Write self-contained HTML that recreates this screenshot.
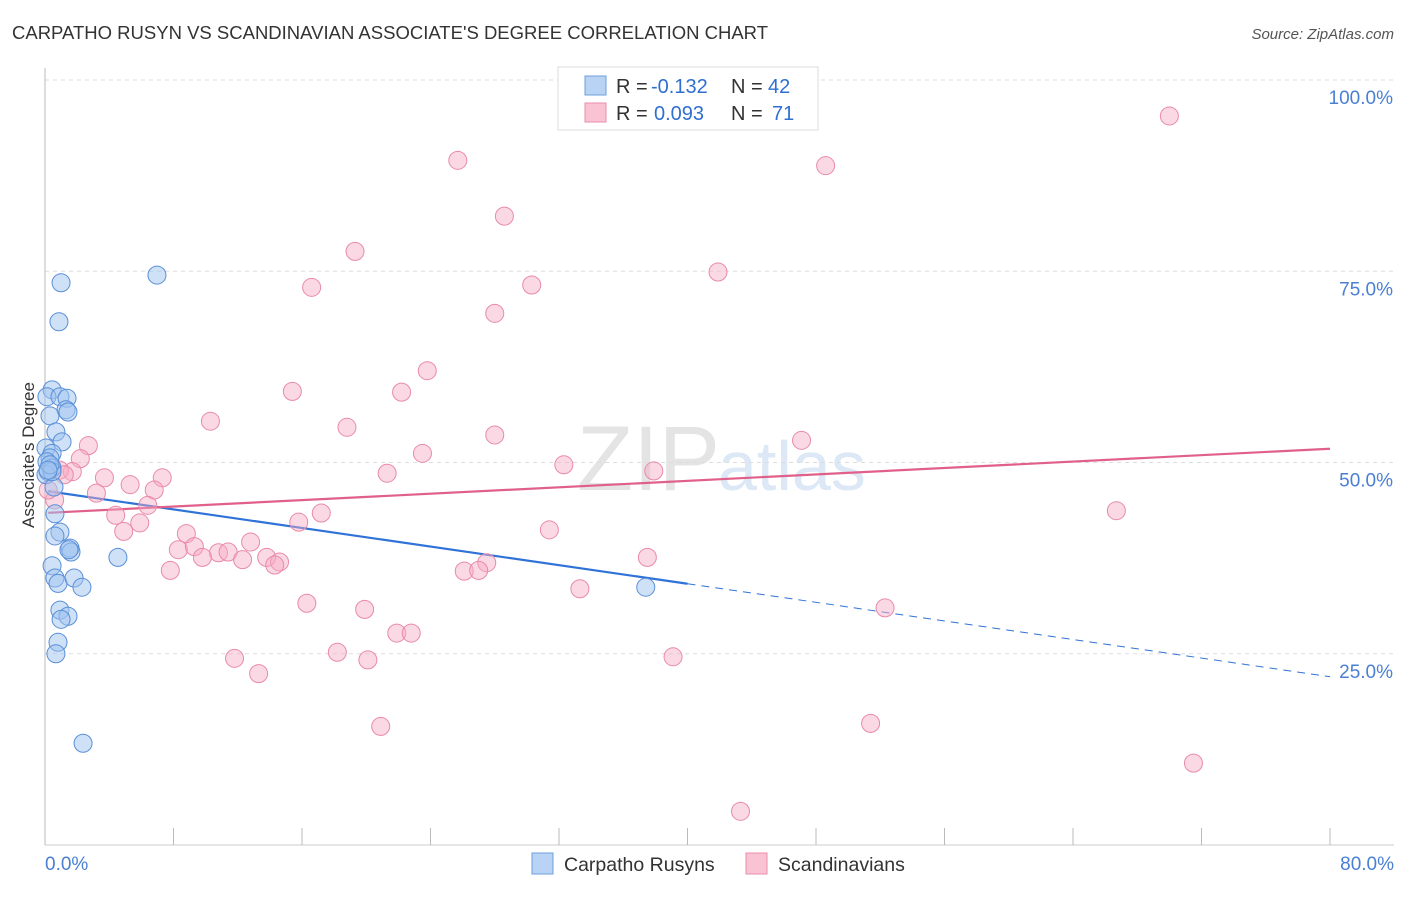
<!DOCTYPE html>
<html><head><meta charset="utf-8"><style>
body{margin:0;background:#fff;font-family:"Liberation Sans",sans-serif;}
svg text{font-family:"Liberation Sans",sans-serif;}
</style></head><body>
<svg id="chart" width="1406" height="892" xmlns="http://www.w3.org/2000/svg">
<text x="12" y="39" font-size="18.5" fill="#333">CARPATHO RUSYN VS SCANDINAVIAN ASSOCIATE'S DEGREE CORRELATION CHART</text>
<text x="1394" y="39" font-size="15" fill="#555" font-style="italic" text-anchor="end">Source: ZipAtlas.com</text>
<text x="720" y="490" font-size="92" fill="#e4e4e4" text-anchor="end" font-family="Liberation Serif">ZIP</text>
<text x="718" y="490" font-size="70" fill="#dce8f6">atlas</text>
<g id="grid"></g>
<g id="axes"></g>
<g id="trend"></g>
<g id="points"></g>
<text transform="translate(34,455) rotate(-90)" font-size="17" fill="#333" text-anchor="middle">Associate's Degree</text>
<g>
<rect x="558" y="67" width="260" height="63" fill="#fff" stroke="#ddd"/>
<rect x="585" y="76" width="21" height="19" fill="#b8d3f3" stroke="#6f9fdc"/>
<rect x="585" y="103" width="21" height="19" fill="#f9c3d3" stroke="#eb8fac"/>
<text x="616" y="93" font-size="20" fill="#333">R =</text>
<text x="651" y="93" font-size="20" fill="#2f6fd0">-0.132</text>
<text x="731" y="93" font-size="20" fill="#333">N =</text>
<text x="768" y="93" font-size="20" fill="#2f6fd0">42</text>
<text x="616" y="120" font-size="20" fill="#333">R =</text>
<text x="654" y="120" font-size="20" fill="#2f6fd0">0.093</text>
<text x="731" y="120" font-size="20" fill="#333">N =</text>
<text x="772" y="120" font-size="20" fill="#2f6fd0">71</text>
</g>
<g>
<rect x="532" y="853" width="21" height="21" fill="#b8d3f3" stroke="#6f9fdc"/>
<text x="564" y="871" font-size="19.5" fill="#333">Carpatho Rusyns</text>
<rect x="746" y="853" width="21" height="21" fill="#f9c3d3" stroke="#eb8fac"/>
<text x="778" y="871" font-size="19.5" fill="#333">Scandinavians</text>
</g>
</svg>
<script>
const blueX=[1.0,0.87,6.97,0.44,0.12,0.93,1.37,1.31,1.43,0.31,0.68,1.06,0.06,0.44,0.31,0.12,0.44,0.19,0.06,0.56,0.62,0.93,0.62,1.56,1.62,1.49,4.54,0.44,0.62,0.81,1.81,2.3,0.93,1.43,1.0,0.81,0.68,2.37,37.4,0.44,0.31,0.19];
const blueY=[73.5,68.4,74.5,59.5,58.6,58.6,58.4,56.9,56.6,56.1,54.0,52.7,51.9,51.2,50.6,50.1,49.3,48.8,48.4,46.8,43.3,40.9,40.4,38.8,38.3,38.6,37.6,36.5,34.9,34.2,34.9,33.7,30.7,29.9,29.5,26.5,25.0,13.3,33.7,48.8,49.7,49.0];
const pinkX=[25.7,28.6,70.0,48.6,19.3,16.6,41.9,30.3,28.0,23.8,15.4,22.2,10.3,18.8,28.0,47.1,2.7,23.5,2.2,32.3,21.3,1.7,3.7,7.3,37.9,5.3,3.2,6.8,6.4,4.4,5.9,17.2,15.8,31.4,8.8,4.9,66.7,12.8,8.3,9.3,10.8,11.4,9.8,12.3,13.8,14.6,14.3,37.5,27.5,7.8,26.1,27.0,33.3,16.3,19.9,52.3,21.9,22.8,18.2,39.1,11.8,20.1,13.3,20.9,51.4,71.5,43.3,0.6,0.9,0.2,1.2];
const pinkY=[89.5,82.2,95.3,88.8,77.6,72.9,74.9,73.2,69.5,62.0,59.3,59.2,55.4,54.6,53.6,52.9,52.2,51.2,50.5,49.7,48.6,48.8,48.0,48.0,48.9,47.1,46.0,46.4,44.4,43.1,42.1,43.4,42.2,41.2,40.7,41.0,43.7,39.6,38.6,39.0,38.2,38.3,37.6,37.3,37.6,37.0,36.6,37.6,36.9,35.9,35.8,35.9,33.5,31.6,30.8,31.0,27.7,27.7,25.2,24.6,24.4,24.2,22.4,15.5,15.9,10.7,4.4,45.1,49.0,46.4,48.4];
const yTicks=[25,50,75,100];
const yTickLabels=["25.0%","50.0%","75.0%","100.0%"];
const xTicks=[0,8,16,24,32,40,48,56,64,72,80];
const blueTrend=[46.3,22.0]; const blueSolidEnd=40.0;
const pinkTrend=[43.4,51.8];
const NS="http://www.w3.org/2000/svg";
const X0=45,X1=1330,YB=845,YT=80;
const sx=v=>X0+(X1-X0)*v/80;
const sy=v=>YB-(YB-YT)*v/100;
function mk(tag,attrs,parent){const e=document.createElementNS(NS,tag);for(const k in attrs)e.setAttribute(k,attrs[k]);document.getElementById(parent).appendChild(e);return e;}
yTicks.forEach((t,i)=>{
 const l=mk('line',{x1:X0,x2:1394,y1:sy(t),y2:sy(t),stroke:'#ddd','stroke-dasharray':'4,4'},'grid');
 
 
 const tx=mk('text',{x:1393,y:sy(t)+24,'font-size':19,fill:'#4a7fd4','text-anchor':'end'},'axes');
 tx.textContent=yTickLabels[i];
 
 
});
const ax=mk('line',{x1:X0,x2:X0,y1:68,y2:YB,stroke:'#bbb'},'axes');


const bx=mk('line',{x1:X0,x2:1394,y1:YB,y2:YB,stroke:'#ccc'},'axes');


xTicks.forEach(t=>{
 const l=mk('line',{x1:sx(t),x2:sx(t),y1:828,y2:YB,stroke:'#bbb'},'axes');
 
 
});
const xl0=mk('text',{x:45,y:870,'font-size':19,fill:'#4a7fd4'},'axes');xl0.textContent='0.0%';


const xl1=mk('text',{x:1394,y:870,'font-size':19,fill:'#4a7fd4','text-anchor':'end'},'axes');xl1.textContent='80.0%';


const lin=(a,x)=>a[0]+(a[1]-a[0])*x/80;
const t1=mk('line',{x1:sx(0.2),y1:sy(lin(blueTrend,0.2)),x2:sx(blueSolidEnd),y2:sy(lin(blueTrend,blueSolidEnd)),stroke:'#2f72d8','stroke-width':2.2},'trend');


const t2=mk('line',{x1:sx(blueSolidEnd),y1:sy(lin(blueTrend,blueSolidEnd)),x2:sx(80),y2:sy(lin(blueTrend,80)),stroke:'#2f72d8','stroke-width':1,'stroke-dasharray':'8,6'},'trend');


const t3=mk('line',{x1:sx(0.2),y1:sy(lin(pinkTrend,0.2)),x2:sx(80),y2:sy(lin(pinkTrend,80)),stroke:'#e0608a','stroke-width':2.2},'trend');


pinkX.forEach((x,i)=>{
 const c=mk('circle',{cx:sx(x),cy:sy(pinkY[i]),r:9,fill:'rgba(246,170,195,0.45)',stroke:'#e98aa8','stroke-width':1},'points');
 
 
});
blueX.forEach((x,i)=>{
 const c=mk('circle',{cx:sx(x),cy:sy(blueY[i]),r:9,fill:'rgba(160,196,240,0.5)',stroke:'#5a8fd8','stroke-width':1},'points');
 
 
});
</script>
</body></html>
